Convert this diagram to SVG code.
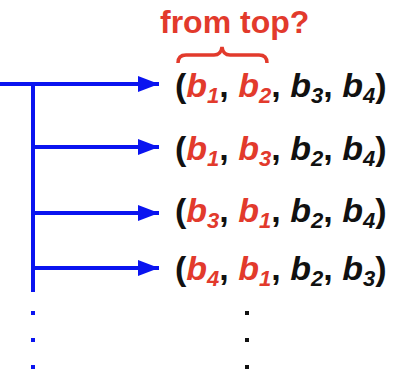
<svg xmlns="http://www.w3.org/2000/svg" width="403" height="374" viewBox="0 0 403 374">
<style>
.ln{stroke:#0a14f0;stroke-width:4;fill:none}
.t{font-family:"Liberation Sans",Arial,sans-serif;font-weight:bold;font-size:34px;fill:#111}
.r{fill:#e23a2c}
.i{font-style:italic}
.s{font-size:22px;font-style:italic}
.lbl{font-family:"Liberation Sans",Arial,sans-serif;font-weight:bold;font-size:32px;fill:#e23a2c}
</style>
<defs>
<marker id="ah" markerUnits="userSpaceOnUse" markerWidth="22" markerHeight="16" refX="21" refY="8" orient="auto">
<path d="M0,0 L21,8 L0,16 Z" fill="#0a14f0"/>
</marker>
</defs>
<rect width="403" height="374" fill="#fff"/>
<g id="connectors">
<line class="ln" x1="0" y1="84" x2="159" y2="84" marker-end="url(#ah)"/>
<line class="ln" x1="33" y1="84" x2="33" y2="292"/>
<line class="ln" x1="33" y1="147" x2="159" y2="147" marker-end="url(#ah)"/>
<line class="ln" x1="33" y1="213" x2="159" y2="213" marker-end="url(#ah)"/>
<line class="ln" x1="33" y1="268" x2="159" y2="268" marker-end="url(#ah)"/>
</g>
<g id="label">
<text class="lbl" x="160" y="33">from top?</text>
<path d="M178,63 Q178,55 186,55 L214,55 Q221,55 222,47 Q223,55 230,55 L259,55 Q267,55 267,63" stroke="#e23a2c" stroke-width="3.5" fill="none"/>
</g>
<g id="row1">
<text class="t" x="175" y="97">(<tspan class="i r">b</tspan><tspan class="s r" dy="6">1</tspan><tspan dy="-6">, </tspan><tspan class="i r">b</tspan><tspan class="s r" dy="6">2</tspan><tspan dy="-6">, </tspan><tspan class="i">b</tspan><tspan class="s" dy="6">3</tspan><tspan dy="-6">, </tspan><tspan class="i">b</tspan><tspan class="s" dy="6">4</tspan><tspan dy="-6">)</tspan></text>
</g>
<g id="row2">
<text class="t" x="175" y="160">(<tspan class="i r">b</tspan><tspan class="s r" dy="6">1</tspan><tspan dy="-6">, </tspan><tspan class="i r">b</tspan><tspan class="s r" dy="6">3</tspan><tspan dy="-6">, </tspan><tspan class="i">b</tspan><tspan class="s" dy="6">2</tspan><tspan dy="-6">, </tspan><tspan class="i">b</tspan><tspan class="s" dy="6">4</tspan><tspan dy="-6">)</tspan></text>
</g>
<g id="row3">
<text class="t" x="175" y="222">(<tspan class="i r">b</tspan><tspan class="s r" dy="6">3</tspan><tspan dy="-6">, </tspan><tspan class="i r">b</tspan><tspan class="s r" dy="6">1</tspan><tspan dy="-6">, </tspan><tspan class="i">b</tspan><tspan class="s" dy="6">2</tspan><tspan dy="-6">, </tspan><tspan class="i">b</tspan><tspan class="s" dy="6">4</tspan><tspan dy="-6">)</tspan></text>
</g>
<g id="row4">
<text class="t" x="175" y="280">(<tspan class="i r">b</tspan><tspan class="s r" dy="6">4</tspan><tspan dy="-6">, </tspan><tspan class="i r">b</tspan><tspan class="s r" dy="6">1</tspan><tspan dy="-6">, </tspan><tspan class="i">b</tspan><tspan class="s" dy="6">2</tspan><tspan dy="-6">, </tspan><tspan class="i">b</tspan><tspan class="s" dy="6">3</tspan><tspan dy="-6">)</tspan></text>
</g>
<g id="dots">
<rect x="31" y="311" width="4" height="4" fill="#0a14f0"/>
<rect x="31" y="338" width="4" height="4" fill="#0a14f0"/>
<rect x="31" y="365" width="4" height="4" fill="#0a14f0"/>
<rect x="245" y="311" width="4" height="4" fill="#111"/>
<rect x="245" y="338" width="4" height="4" fill="#111"/>
<rect x="245" y="365" width="4" height="4" fill="#111"/>
</g>
</svg>
